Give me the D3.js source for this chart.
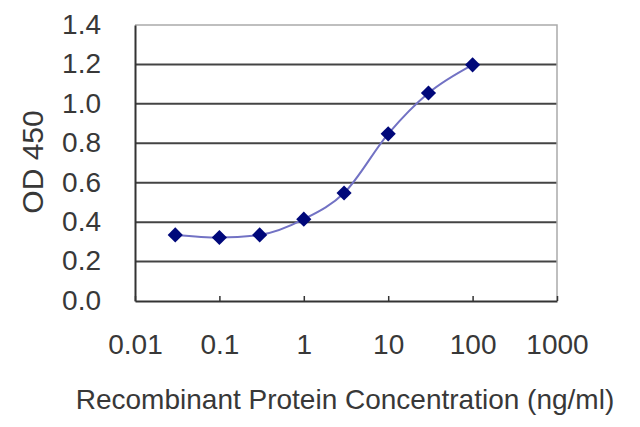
<!DOCTYPE html>
<html>
<head>
<meta charset="utf-8">
<script src="https://cdn.jsdelivr.net/npm/d3@7"></script>
<style>
  body { margin: 0; background: #fff; }
  text { font-family: "Liberation Sans", Arial, sans-serif; fill: #383838; }
</style>
</head>
<body>
<div id="chart"></div>
<script>
// concentrations (ng/ml) and measured OD 450
var conc = [0.03, 0.1, 0.3, 1, 3, 10, 30, 100];
var od = [0.335, 0.322, 0.335, 0.415, 0.548, 0.848, 1.055, 1.198];

var xTicks = [0.01, 0.1, 1, 10, 100, 1000];
var xTickLabels = ["0.01", "0.1", "1", "10", "100", "1000"];
var yTicks = [0, 0.2, 0.4, 0.6, 0.8, 1.0, 1.2, 1.4];

function init() {
    var w = 640;
    var h = 427;
    var left = 135, right = 557, top = 25, bottom = 301;

    var xScale = d3.scaleLog()
                   .domain([0.01, 1000])
                   .range([left, right]);

    var yScale = d3.scaleLinear()
                   .domain([0, 1.4])
                   .range([bottom, top]);

    var svg = d3.select("#chart")
                .append("svg")
                .attr("width", w)
                .attr("height", h);

    // horizontal gridlines
    svg.selectAll("line.grid")
       .data(yTicks.slice(1, -1))
       .enter()
       .append("line")
       .attr("class", "grid")
       .attr("x1", left)
       .attr("x2", right)
       .attr("y1", function(d) { return yScale(d); })
       .attr("y2", function(d) { return yScale(d); })
       .attr("stroke", "#444")
       .attr("stroke-width", 2);

    // top and right frame (grey)
    svg.append("path")
       .attr("d", "M" + left + "," + top + "H" + right + "V" + bottom)
       .attr("fill", "none")
       .attr("stroke", "#aaa")
       .attr("stroke-width", 1.5);

    // x axis, ticks pointing inside
    var xAxis = d3.axisBottom(xScale)
                  .tickValues(xTicks)
                  .tickSize(-5)
                  .tickSizeOuter(0)
                  .tickFormat(function(d, i) { return xTickLabels[i]; });

    var gx = svg.append("g")
                .attr("transform", "translate(0," + bottom + ")")
                .call(xAxis);
    gx.select(".domain").attr("stroke", "#333").attr("stroke-width", 2);
    gx.selectAll(".tick line").attr("stroke", "#333").attr("stroke-width", 1.5);
    gx.selectAll(".tick text")
      .attr("y", 43)
      .attr("dy", "0.35em")
      .style("font-size", "28px")
      .attr("fill", "#383838");

    // y axis, no ticks
    var yAxis = d3.axisLeft(yScale)
                  .tickValues(yTicks)
                  .tickSize(0)
                  .tickFormat(d3.format(".1f"));

    var gy = svg.append("g")
                .attr("transform", "translate(" + left + ",0)")
                .call(yAxis);
    gy.select(".domain").attr("stroke", "#333").attr("stroke-width", 2);
    gy.selectAll(".tick text")
      .attr("x", -34)
      .attr("dy", "0.3em")
      .style("font-size", "28px")
      .attr("fill", "#383838");

    // fitted curve
    var line = d3.line()
                 .x(function(d, i) { return xScale(conc[i]); })
                 .y(function(d) { return yScale(d); })
                 .curve(d3.curveMonotoneX);

    svg.append("path")
       .datum(od)
       .attr("d", line)
       .attr("fill", "none")
       .attr("stroke", "#7272c4")
       .attr("stroke-width", 2);

    // diamond markers
    var diamond = d3.symbol().type(d3.symbolSquare).size(115);
    svg.selectAll("path.pt")
       .data(od)
       .enter()
       .append("path")
       .attr("class", "pt")
       .attr("d", diamond)
       .attr("transform", function(d, i) {
           return "translate(" + xScale(conc[i]) + "," + yScale(d) + ") rotate(45)";
       })
       .attr("fill", "#00087a");

    // axis titles
    svg.append("text")
       .attr("transform", "translate(43,162) rotate(-90)")
       .attr("text-anchor", "middle")
       .style("font-size", "30px")
       .text("OD 450");

    svg.append("text")
       .attr("x", 345)
       .attr("y", 409)
       .attr("text-anchor", "middle")
       .style("font-size", "28px")
       .text("Recombinant Protein Concentration (ng/ml)");
}

window.onload = init;
</script>
</body>
</html>
